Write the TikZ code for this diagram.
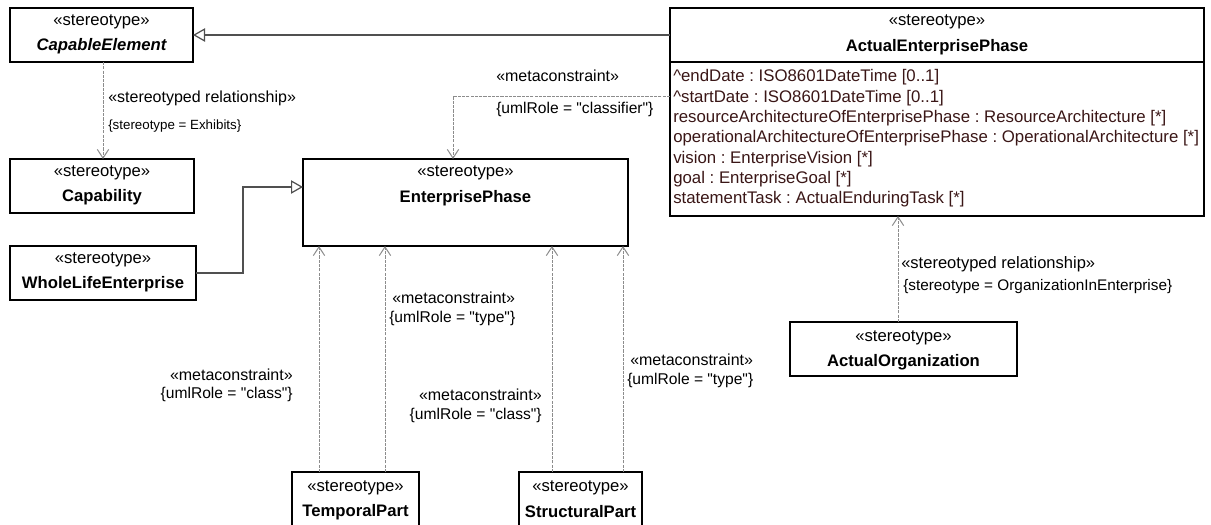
\documentclass[tikz,border=0pt]{standalone}
\usepackage{fontspec}
\setmainfont{Liberation Sans}
\newfontfamily\lsans{Liberation Sans}
\usetikzlibrary{arrows.meta}
\definecolor{genc}{HTML}{505050}
\definecolor{depc}{HTML}{8C8C8C}
\definecolor{attrc}{HTML}{3A1616}
\newcommand\umlbox[5]{\node[umlb,minimum width={(#4-#2)*0.75pt},minimum height={(#5-#3)*0.75pt}] (#1) at (#2,#3) {};}
\begin{document}
\frenchspacing
\begin{tikzpicture}[x=0.75pt,y=-0.75pt,
  umlb/.style={draw=black,line width=1.2pt,inner sep=0pt,outer sep=0pt,anchor=north west,fill=white},
  stt/.style={font=\lsans\fontsize{12.5}{14}\selectfont,inner sep=0pt},
  nm/.style={font=\lsans\fontsize{12.5}{14}\selectfont\bfseries,inner sep=0pt},
  lbl/.style={font=\lsans\fontsize{12}{14}\selectfont,inner sep=0pt},
  rlbl/.style={font=\lsans\fontsize{11.7}{13}\selectfont,inner sep=0pt},
  slbl/.style={font=\lsans\fontsize{10}{12}\selectfont,inner sep=0pt},
  attr/.style={font=\lsans\fontsize{12.6}{14}\selectfont,text=attrc,inner sep=0pt,anchor=west},
  genline/.style={draw=genc,line width=0.9pt,-{Triangle[open,length=9pt,width=10pt,fill=white]}},
  depline/.style={draw=depc,line width=0.75pt,dash pattern=on 2.4pt off 0.8pt,-{Straight Barb[length=6.5pt,width=8.5pt,line width=0.75pt]}}]
\useasboundingbox[fill=white] (0,0) rectangle (1211,525);

% boxes
\umlbox{cap}{10}{8}{193}{62}
\umlbox{capab}{10}{159}{194}{213}
\umlbox{wle}{10}{246}{196}{300}
\umlbox{ep}{303}{159}{628}{246}
\umlbox{aep}{670}{8}{1204}{216}
\umlbox{ao}{790}{322}{1017}{376}
\umlbox{tp}{292}{472}{419}{530}
\umlbox{sp}{519}{472}{642}{530}
\draw[draw=black,line width=1.2pt] (aep.north west |- 0,62) -- (aep.north east |- 0,62);

% box texts
\node[stt] (capS) at (101.5,22) {«stereotype»};
\node[nm,font=\lsans\fontsize{12.5}{14}\selectfont\bfseries\itshape] (capN) at (101.5,46) {CapableElement};
\node[stt] (capabS) at (102,173) {«stereotype»};
\node[nm] (capabN) at (102,197) {Capability};
\node[stt] (wleS) at (103,260) {«stereotype»};
\node[nm] (wleN) at (103,284) {WholeLifeEnterprise};
\node[stt] (epS) at (465.5,173) {«stereotype»};
\node[nm] (epN) at (465.5,198) {EnterprisePhase};
\node[stt] (aepS) at (937,22) {«stereotype»};
\node[nm] (aepN) at (937,47) {ActualEnterprisePhase};
\node[attr] (a1) at (673,77.5) {\^{}endDate : ISO8601DateTime [0..1]};
\node[attr] (a2) at (673,97.8) {\^{}startDate : ISO8601DateTime [0..1]};
\node[attr] (a3) at (673,118.1) {resourceArchitectureOfEnterprisePhase : ResourceArchitecture [*]};
\node[attr] (a4) at (673,138.4) {operationalArchitectureOfEnterprisePhase : OperationalArchitecture [*]};
\node[attr] (a5) at (673,158.7) {vision : EnterpriseVision [*]};
\node[attr] (a6) at (673,179) {goal : EnterpriseGoal [*]};
\node[attr] (a7) at (673,199.3) {statementTask : ActualEnduringTask [*]};
\node[stt] (aoS) at (903.5,338) {«stereotype»};
\node[nm] (aoN) at (903.5,362) {ActualOrganization};
\node[stt] (tpS) at (355.5,488) {«stereotype»};
\node[nm] (tpN) at (355.5,512) {TemporalPart};
\node[stt] (spS) at (580.5,488) {«stereotype»};
\node[nm] (spN) at (580.5,512) {StructuralPart};

% connectors
\draw[genline] (aep.west |- cap.east) -- (cap.east);
\draw[depline] (cap.south -| 103,0) -- (capab.north -| 103,0);
\draw[genline] (wle.east) -- ++(47,0) |- (ep.west |- 0,187);
\draw[depline] (aep.west |- 0,96) -| (ep.north -| 453,0);
\draw[depline] (tp.north -| 319,0) -- (ep.south -| 319,0);
\draw[depline] (tp.north -| 385,0) -- (ep.south -| 385,0);
\draw[depline] (sp.north -| 552,0) -- (ep.south -| 552,0);
\draw[depline] (sp.north -| 623,0) -- (ep.south -| 623,0);
\draw[depline] (ao.north -| 898,0) -- (aep.south -| 898,0);

% connector labels
\node[lbl,anchor=west] (l1a) at (108,98) {«stereotyped relationship»};
\node[slbl,anchor=west] (l1b) at (108,126) {\{stereotype = Exhibits\}};
\node[lbl,anchor=west] (l2a) at (496,76) {«metaconstraint»};
\node[rlbl,anchor=west] (l2b) at (496,109) {\{umlRole = "classifier"\}};
\node[lbl,anchor=east] (l3a) at (293,375) {«metaconstraint»};
\node[rlbl,anchor=east] (l3b) at (293,394) {\{umlRole = "class"\}};
\node[lbl,anchor=west] (l4a) at (392,298) {«metaconstraint»};
\node[rlbl,anchor=west] (l4b) at (389,318) {\{umlRole = "type"\}};
\node[lbl,anchor=east] (l5a) at (542,395) {«metaconstraint»};
\node[rlbl,anchor=east] (l5b) at (542,415) {\{umlRole = "class"\}};
\node[lbl,anchor=west] (l6a) at (630,360) {«metaconstraint»};
\node[rlbl,anchor=west] (l6b) at (627,380) {\{umlRole = "type"\}};
\node[lbl,anchor=west,font=\lsans\fontsize{12.4}{14}\selectfont] (l7a) at (901,264) {«stereotyped relationship»};
\node[slbl,anchor=west,font=\lsans\fontsize{11.5}{13}\selectfont] (l7b) at (903,287) {\{stereotype = OrganizationInEnterprise\}};
\end{tikzpicture}
\end{document}
